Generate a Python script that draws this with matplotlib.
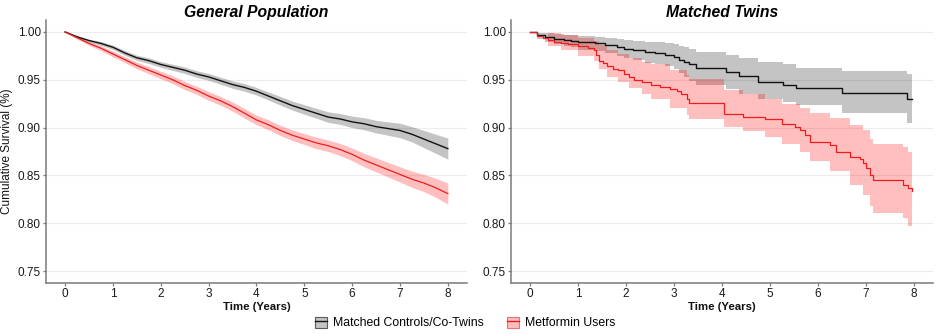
import matplotlib
matplotlib.use('Agg')
import matplotlib.pyplot as plt
from matplotlib.patches import Patch
from matplotlib.lines import Line2D
from matplotlib.ticker import FormatStrFormatter

plt.rcParams['font.family'] = ['Liberation Sans', 'DejaVu Sans']

#Datos poblacion general (supervivencia cada 0.25 años)
tiempo_gp = [0, 0.25, 0.5, 0.75, 1, 1.25, 1.5, 1.75, 2, 2.25, 2.5, 2.75, 3, 3.25, 3.5, 3.75,
             4, 4.25, 4.5, 4.75, 5, 5.25, 5.5, 5.75, 6, 6.25, 6.5, 6.75, 7, 7.25, 7.5, 7.75, 8]
control_gp = [1.000, 0.995, 0.991, 0.988, 0.984, 0.978, 0.973, 0.970, 0.966, 0.963, 0.960, 0.956,
              0.953, 0.949, 0.945, 0.942, 0.938, 0.933, 0.928, 0.923, 0.919, 0.915, 0.911, 0.909,
              0.906, 0.904, 0.901, 0.899, 0.897, 0.893, 0.888, 0.883, 0.878]
control_gp_sup = [1.000, 0.996, 0.9925, 0.990, 0.9862, 0.9805, 0.9757, 0.973, 0.969, 0.9662, 0.9634,
                  0.9595, 0.9566, 0.9527, 0.9488, 0.946, 0.942, 0.9372, 0.9325, 0.9277, 0.924,
                  0.9202, 0.9165, 0.9147, 0.912, 0.9103, 0.9076, 0.906, 0.9045, 0.901, 0.897, 0.893, 0.889]
control_gp_inf = [1.000, 0.994, 0.9895, 0.986, 0.9818, 0.9755, 0.9703, 0.967, 0.963, 0.9598, 0.9566,
                  0.9525, 0.9494, 0.9453, 0.9412, 0.938, 0.934, 0.9288, 0.9235, 0.9183, 0.914,
                  0.9098, 0.9055, 0.9033, 0.900, 0.8977, 0.8944, 0.892, 0.8895, 0.885, 0.879, 0.873, 0.867]
metformina_gp = [1.000, 0.994, 0.988, 0.983, 0.977, 0.971, 0.965, 0.960, 0.955, 0.950, 0.944, 0.939,
                 0.933, 0.928, 0.922, 0.915, 0.908, 0.903, 0.897, 0.892, 0.888, 0.884, 0.881, 0.877,
                 0.872, 0.866, 0.861, 0.856, 0.851, 0.846, 0.842, 0.837, 0.831]
metformina_gp_sup = [1.000, 0.9955, 0.990, 0.9855, 0.980, 0.9742, 0.9685, 0.9637, 0.959, 0.954, 0.9482,
                     0.9433, 0.9375, 0.9326, 0.9268, 0.920, 0.913, 0.9082, 0.9024, 0.8975, 0.8937,
                     0.890, 0.887, 0.8833, 0.8786, 0.873, 0.8683, 0.8636, 0.859, 0.8545, 0.851, 0.847, 0.842]
metformina_gp_inf = [1.000, 0.9925, 0.986, 0.9805, 0.974, 0.9678, 0.9615, 0.9563, 0.951, 0.946, 0.9398,
                     0.9347, 0.9285, 0.9234, 0.9172, 0.910, 0.903, 0.8978, 0.8916, 0.8865, 0.8823,
                     0.878, 0.875, 0.8707, 0.8654, 0.859, 0.8537, 0.8484, 0.843, 0.8375, 0.833, 0.827, 0.820]

#Datos gemelos (curva escalonada Kaplan-Meier)
tiempo_ctrl_tw = [0, 0.15, 0.3, 0.5, 0.7, 0.85, 1.0, 1.35, 1.55, 1.8, 1.95, 2.15, 2.4, 2.6, 2.8,
                  3.0, 3.1, 3.2, 3.3, 3.45, 4.09, 4.35, 4.75, 5.27, 5.55, 6.51, 7.86, 7.95]
control_tw = [1.0, 0.997, 0.995, 0.993, 0.992, 0.991, 0.989, 0.988, 0.9865, 0.984, 0.9825, 0.981,
              0.979, 0.9775, 0.976, 0.974, 0.971, 0.969, 0.966, 0.962, 0.958, 0.954, 0.948, 0.9445,
              0.941, 0.9365, 0.930, 0.930]
control_tw_sup = [1.0, 0.999, 0.999, 0.998, 0.997, 0.997, 0.996, 0.995, 0.994, 0.993, 0.992, 0.991,
                  0.990, 0.989, 0.988, 0.987, 0.985, 0.984, 0.982, 0.979, 0.976, 0.973, 0.969, 0.966,
                  0.962, 0.959, 0.956, 0.956]
control_tw_inf = [1.0, 0.993, 0.990, 0.987, 0.985, 0.984, 0.981, 0.980, 0.978, 0.975, 0.973, 0.971,
                  0.968, 0.966, 0.964, 0.961, 0.957, 0.953, 0.949, 0.945, 0.940, 0.935, 0.930, 0.927,
                  0.924, 0.915, 0.905, 0.905]

tiempo_met_tw = [0, 0.15, 0.26, 0.36, 0.5, 0.64, 0.78, 1.0, 1.2, 1.33, 1.37, 1.44, 1.51, 1.61, 1.72,
                 1.82, 1.96, 2.06, 2.17, 2.34, 2.52, 2.70, 2.91, 3.05, 3.15, 3.26, 3.32, 4.03, 4.44,
                 4.89, 5.24, 5.52, 5.62, 5.72, 5.83, 6.25, 6.38, 6.66, 6.87, 6.94, 7.01, 7.08, 7.15,
                 7.78, 7.88, 7.95]
metformina_tw = [1.0, 0.996, 0.994, 0.992, 0.989, 0.988, 0.987, 0.985, 0.9835, 0.981, 0.976, 0.970,
                 0.9675, 0.964, 0.9615, 0.960, 0.9565, 0.953, 0.950, 0.948, 0.9445, 0.9425, 0.940,
                 0.9385, 0.935, 0.930, 0.9255, 0.9145, 0.911, 0.909, 0.9035, 0.9005, 0.897, 0.892,
                 0.885, 0.8815, 0.8745, 0.8695, 0.867, 0.8625, 0.858, 0.8505, 0.8455, 0.840, 0.8365, 0.834]
tiempo_banda_met_tw = [0, 0.36, 0.64, 1.0, 1.33, 1.44, 1.61, 1.82, 2.06, 2.34, 2.52, 2.91, 3.26, 3.32,
                       4.03, 4.44, 4.89, 5.24, 5.62, 5.83, 6.25, 6.66, 6.94, 7.08, 7.15, 7.78, 7.88, 7.95]
metformina_tw_sup = [1.0, 0.999, 0.997, 0.994, 0.991, 0.986, 0.981, 0.977, 0.973, 0.969, 0.966, 0.960,
                     0.955, 0.951, 0.939, 0.935, 0.930, 0.925, 0.920, 0.915, 0.910, 0.903, 0.897,
                     0.888, 0.883, 0.880, 0.874, 0.874]
metformina_tw_inf = [1.0, 0.985, 0.981, 0.975, 0.970, 0.961, 0.953, 0.948, 0.941, 0.935, 0.930, 0.920,
                     0.913, 0.909, 0.901, 0.896, 0.890, 0.883, 0.874, 0.865, 0.855, 0.840, 0.830,
                     0.818, 0.811, 0.805, 0.797, 0.797]

titulos = ['General Population', 'Matched Twins']
etiquetas = ['Matched Controls/Co-Twins', 'Metformin Users']

color_ctrl = '#111111'
color_met = '#ee1c1c'
banda_ctrl = '#000000'
banda_met = '#ff0000'

fig = plt.figure(figsize=(9.36, 3.34), dpi=100)
ax1 = fig.add_axes([0.0491, 0.1527, 0.4498, 0.7874])
ax2 = fig.add_axes([0.546, 0.1527, 0.4509, 0.7874])


#Funcion para dar formato a cada panel
def estilo(ax, titulo):
    ax.set_xlim(-0.4, 8.4)
    ax.set_ylim(0.7375, 1.0125)
    ax.set_xticks(range(0, 9))
    ax.set_yticks([0.75, 0.80, 0.85, 0.90, 0.95, 1.00])
    ax.yaxis.set_major_formatter(FormatStrFormatter('%.2f'))
    ax.grid(axis='y', color='#ececec', linewidth=0.8)
    ax.set_axisbelow(True)
    for s in ['top', 'right']:
        ax.spines[s].set_visible(False)
    for s in ['left', 'bottom']:
        ax.spines[s].set_color('#7a7a7a')
        ax.spines[s].set_linewidth(1.1)
    ax.tick_params(colors='#7a7a7a', labelcolor='#1a1a1a', labelsize=8.5, length=2.2, width=0.9, pad=1.5)
    ax.set_xlabel('Time (Years)', fontsize=8.2, fontweight='bold', labelpad=1, color='#111111')
    ax.set_title(titulo, fontsize=11.3, fontweight='bold', fontstyle='italic', pad=2.5)


#Panel 1: poblacion general
ax1.fill_between(tiempo_gp, control_gp_inf, control_gp_sup, color=banda_ctrl, alpha=0.23, linewidth=0)
ax1.fill_between(tiempo_gp, metformina_gp_inf, metformina_gp_sup, color=banda_met, alpha=0.25, linewidth=0)
ax1.plot(tiempo_gp, control_gp, color=color_ctrl, linewidth=1.0)
ax1.plot(tiempo_gp, metformina_gp, color=color_met, linewidth=0.9)
estilo(ax1, titulos[0])

#Panel 2: gemelos
ax2.fill_between(tiempo_ctrl_tw, control_tw_inf, control_tw_sup, step='post', color=banda_ctrl, alpha=0.23, linewidth=0)
ax2.fill_between(tiempo_banda_met_tw, metformina_tw_inf, metformina_tw_sup, step='post', color=banda_met, alpha=0.25, linewidth=0)
ax2.plot(tiempo_ctrl_tw, control_tw, drawstyle='steps-post', color=color_ctrl, linewidth=1.0)
ax2.plot(tiempo_met_tw, metformina_tw, drawstyle='steps-post', color=color_met, linewidth=0.9)
estilo(ax2, titulos[1])

fig.text(7.5 / 936, 1 - 151 / 334, 'Cumulative Survival (%)', rotation=90, ha='center', va='center',
         fontsize=8.5, color='#111111')

#Leyenda con caja y linea
h1 = (Patch(facecolor='#c4c4c4', edgecolor='#5a5a5a', linewidth=0.8), Line2D([], [], color=color_ctrl, linewidth=1.0))
h2 = (Patch(facecolor='#ffbfbf', edgecolor='#f07070', linewidth=0.8), Line2D([], [], color=color_met, linewidth=1.0))
fig.legend([h1, h2], etiquetas, loc='center', bbox_to_anchor=(0.497, 0.033), ncol=2, frameon=False,
           fontsize=8.8, handlelength=1.0, handleheight=1.0, columnspacing=1.9, handletextpad=0.5)

fig.savefig('out.png', dpi=100)
